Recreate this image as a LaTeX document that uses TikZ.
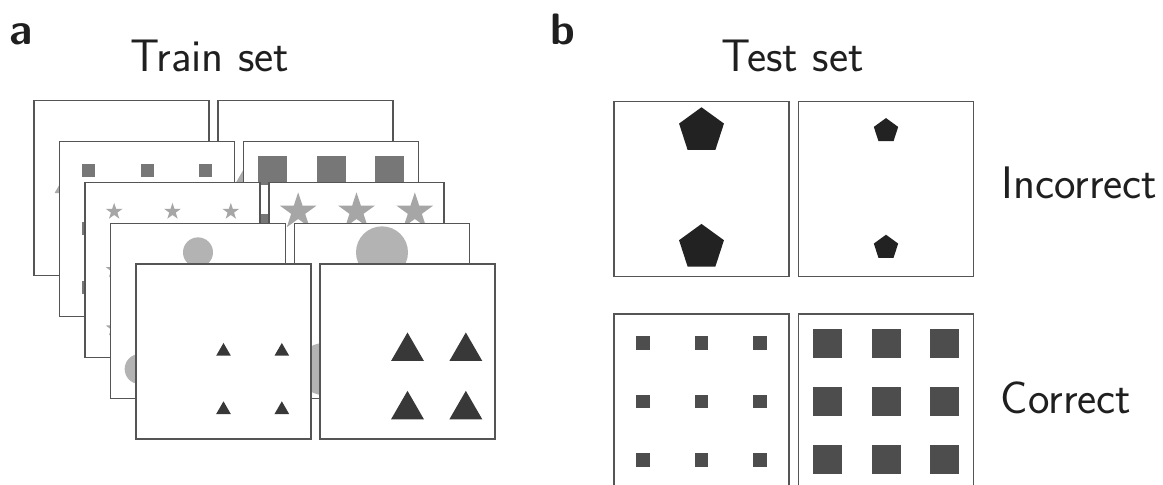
\documentclass[tikz,border=0pt]{standalone}
\definecolor{panelline}{HTML}{555555}
\definecolor{sqtrain}{HTML}{777777}
\definecolor{stargray}{HTML}{A6A6A6}
\definecolor{circgray}{HTML}{B3B3B3}
\definecolor{tridark}{HTML}{383838}
\definecolor{trilight}{HTML}{AAAAAA}
\definecolor{pentdark}{HTML}{222222}
\definecolor{sqtest}{HTML}{4D4D4D}

% grid positions inside a 175 x 175 panel
\def\ga{29.17}
\def\gb{87.5}
\def\gc{145.83}

\tikzset{
  panel/.style={draw=panelline, line width=0.6pt, fill=white},
  lbl/.style={font=\sffamily\fontsize{22.8}{27}\selectfont, inner sep=0pt, anchor=base, text=black!88},
  tag/.style={font=\sffamily\bfseries\fontsize{22}{26}\selectfont, inner sep=0pt, anchor=base west, text=black!88},
}

% white panel with its upper left corner at (#1,#2)
\newcommand{\panelat}[2]{\path[panel] (#1,#2) rectangle ++(175,175);}
% filled square: centre, side, colour
\newcommand{\sqr}[4]{\fill[#4] (#1-#3/2,#2-#3/2) rectangle ++(#3,#3);}
% upward triangle: centroid, circumradius, colour
\newcommand{\trg}[4]{\begin{scope}[shift={(#1,#2)}]
  \fill[#4] (270:#3) -- (30:#3) -- (150:#3) -- cycle;\end{scope}}
% pentagon: centre, circumradius, colour
\newcommand{\pnt}[4]{\begin{scope}[shift={(#1,#2)}]
  \fill[#4] (270:#3) -- (342:#3) -- (54:#3) -- (126:#3) -- (198:#3) -- cycle;\end{scope}}
% five-pointed star: centre, outer radius, inner radius, colour
\newcommand{\str}[5]{\begin{scope}[shift={(#1,#2)}]
  \fill[#5] (270:#3) -- (306:#4) -- (342:#3) -- (18:#4) -- (54:#3) -- (90:#4)
    -- (126:#3) -- (162:#4) -- (198:#3) -- (234:#4) -- cycle;\end{scope}}
% 3 x 3 grid of squares in a panel at (#1,#2)
\newcommand{\sqgrid}[4]{\foreach \u in {\ga,\gb,\gc}{\foreach \v in {\ga,\gb,\gc}{
  \sqr{#1+\u}{#2+\v}{#3}{#4}}}}
% 3 x 3 grid of stars in a panel at (#1,#2)
\newcommand{\stgrid}[5]{\foreach \u in {\ga,\gb,\gc}{\foreach \v in {\ga,\gb,\gc}{
  \str{#1+\u}{#2+\v}{#3}{#4}{#5}}}}

\begin{document}
\begin{tikzpicture}[x=0.5pt, y=-0.5pt]
\useasboundingbox (0,0) rectangle (1163,485);
\clip (0,0) rectangle (1163,485);

% ---------- a: stacked training pairs ----------
% layer 1: light triangles
\panelat{34}{100.7}
\foreach \u in {\ga,\gb,\gc}{\trg{34+\u}{100.7+\gb}{10}{trilight}}
\panelat{218}{100.7}
\foreach \u in {\ga,\gb,\gc}{\trg{218+\u}{100.7+\gb}{25}{trilight}}

% layer 2: squares
\panelat{59.5}{141.5}
\sqgrid{59.5}{141.5}{13}{sqtrain}
\panelat{243.5}{141.5}
\sqgrid{243.5}{141.5}{29}{sqtrain}

% layer 3: stars
\panelat{85}{182.4}
\stgrid{85}{182.4}{8.8}{3.4}{stargray}
\panelat{269}{182.4}
\stgrid{269}{182.4}{19.3}{7.4}{stargray}

% layer 4: circles
\panelat{110.5}{223.2}
\fill[circgray] (110.5+\gb,223.2+\ga) circle[radius=15];
\fill[circgray] (110.5+\ga,223.2+\gc) circle[radius=15];
\panelat{294.5}{223.2}
\fill[circgray] (294.5+\gb,223.2+\ga) circle[radius=26];
\fill[circgray] (294.5+\ga,223.2+\gc) circle[radius=26];

% layer 5: dark triangles
\panelat{136}{264}
\foreach \u in {\gb,\gc}{\foreach \v in {\gb,\gc}{\trg{136+\u}{264+\v}{8.5}{tridark}}}
\panelat{320}{264}
\foreach \u in {\gb,\gc}{\foreach \v in {\gb,\gc}{\trg{320+\u}{264+\v}{19}{tridark}}}

% ---------- b: test pairs ----------
\panelat{614}{101.7}
\pnt{614+\gb}{101.7+\ga}{23.6}{pentdark}
\pnt{614+\gb}{101.7+\gc}{23.6}{pentdark}
\panelat{798.5}{101.7}
\pnt{798.5+\gb}{101.7+\ga}{12.8}{pentdark}
\pnt{798.5+\gb}{101.7+\gc}{12.8}{pentdark}

\panelat{614}{314}
\sqgrid{614}{314}{13.5}{sqtest}
\panelat{798.5}{314}
\sqgrid{798.5}{314}{29}{sqtest}

% ---------- labels ----------
\node[tag] (taga) at (9,44.3) {a};
\node[lbl] (traintitle) at (210,71.7) {Train set};
\node[tag] (tagb) at (550,44.3) {b};
\node[lbl] (testtitle) at (792.7,71.7) {Test set};
\node[lbl, anchor=base west] (wrong) at (1001,198.3) {Incorrect};
\node[lbl, anchor=base west] (right) at (1000.5,413.3) {Correct};
\end{tikzpicture}
\end{document}
